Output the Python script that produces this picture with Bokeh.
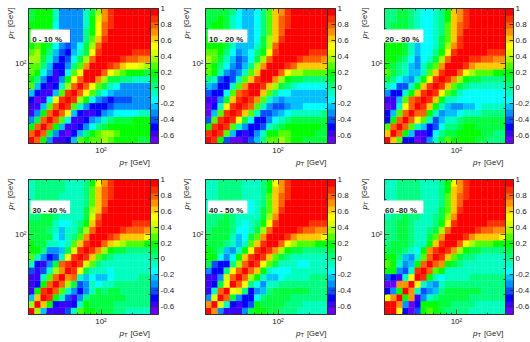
import math
import numpy as np
from bokeh.plotting import figure
from bokeh.layouts import column, row
from bokeh.models import (ColumnDataSource, LinearColorMapper, ColorBar, FixedTicker, LogAxis, Range1d)
from bokeh.core.properties import value
from bokeh.embed import file_html
from bokeh.resources import INLINE

titles = ["0 - 10 %", "10 - 20 %", "20 - 30 %", "30 - 40 %", "40 - 50 %", "60 -80 %"]
cbar_ticks = [-0.6, -0.4, -0.2, 0, 0.2, 0.4, 0.6, 0.8, 1]
major_ticks = [100]
minor_ticks = [20, 30, 40, 50, 60, 70, 80, 90, 200, 300]
palette = ["#6a00ff", "#3c00ff", "#0000ff", "#0050ff", "#0090ff", "#00c0ff", "#00ffff", "#00ffc0",
           "#00ff80", "#00ff40", "#00ff00", "#50ff00", "#a0ff00", "#d8ff00", "#ffff00", "#ffc800",
           "#ff9000", "#ff6000", "#ff3000", "#ff0000"]

c0 = [[1],[.75,1],[.15,.8,1],[-.3,.1,.75,1],[-.58,-.35,.15,.8,1],[-.6,-.58,-.2,.25,.8,1],
[-.48,-.62,-.6,-.12,.5,.85,1],[-.25,-.5,-.6,-.55,-.2,.3,.85,1],[.3,-.25,-.5,-.6,-.5,-.1,.4,.8,1],
[.2,.0,-.28,-.5,-.58,-.3,.15,.55,.82,1],
[.25,.15,-.15,-.35,-.58,-.5,-.12,.3,.55,.93,1],
[.3,.25,.05,-.2,-.45,-.52,-.3,.05,.3,.72,.93,1],
[.36,.33,.12,-.05,-.35,-.5,-.42,-.15,.08,.38,.75,.95,1],
[.32,.33,.15,.05,-.22,-.42,-.45,-.25,-.05,.12,.55,.88,.95,1],
[.2,.25,.15,.1,-.13,-.32,-.42,-.28,-.15,.08,.33,.78,.92,.97,1],
[.18,.22,.2,.1,-.12,-.3,-.42,-.33,-.28,.05,.28,.62,.88,.95,.98,1],
[.15,.2,.2,.12,-.12,-.28,-.38,-.33,-.28,.02,.22,.52,.8,.92,.95,.97,1],
[.15,.18,.2,.15,-.12,-.28,-.33,-.33,-.28,-.03,.2,.5,.75,.9,.93,.95,.97,1],
[.12,.15,.18,.15,-.1,-.28,-.33,-.33,-.28,-.05,.15,.42,.72,.88,.93,.93,.95,.97,1],
[.1,.15,.18,.15,-.1,-.3,-.33,-.33,-.28,-.05,.12,.4,.72,.88,.93,.93,.93,.95,.97,1]]

c1 = [[1],[.88,1],[.15,.85,1],[-.4,.25,.85,1],[-.62,-.2,.3,.88,1],[-.62,-.45,-.05,.55,.88,1],
[-.55,-.6,-.35,.1,.62,.88,1],[-.4,-.5,-.45,-.12,.3,.75,.88,1],[-.2,-.35,-.5,-.5,-.05,.3,.7,.92,1],
[.03,-.1,-.4,-.5,-.42,-.05,.25,.6,.9,1],
[.3,.15,-.1,-.33,-.42,-.33,-.05,.3,.62,.92,1],
[.28,.2,.05,-.15,-.3,-.38,-.22,.05,.33,.7,.93,1],
[.33,.3,.12,-.02,-.25,-.38,-.3,-.12,.1,.38,.78,.95,1],
[.3,.3,.15,.05,-.15,-.3,-.25,-.15,.0,.2,.55,.88,.95,1],
[.2,.22,.15,.08,-.05,-.22,-.25,-.2,-.1,.12,.4,.75,.92,.97,1],
[.15,.2,.15,.08,-.08,-.2,-.25,-.2,-.12,.08,.33,.65,.88,.95,.98,1],
[.12,.18,.15,.1,-.07,-.18,-.25,-.2,-.15,.05,.3,.6,.82,.93,.96,.97,1],
[.12,.15,.15,.12,-.05,-.15,-.25,-.22,-.15,.03,.28,.58,.78,.9,.95,.96,.97,1],
[.12,.14,.15,.12,-.02,-.13,-.27,-.25,-.15,.03,.28,.58,.75,.9,.95,.95,.95,.97,1],
[.1,.12,.14,.12,.0,-.12,-.25,-.25,-.13,.03,.25,.58,.72,.9,.95,.95,.95,.96,.97,1]]

c2 = [[1],[.58,1],[.25,.75,1],[-.45,.2,.75,1],[-.5,-.2,.25,.75,1],[-.62,-.55,-.05,.5,.78,1],
[-.58,-.6,-.25,.25,.75,.88,1],[-.35,-.45,-.5,-.1,.2,.62,.88,1],[-.05,-.15,-.4,-.4,-.05,.2,.6,.88,1],
[.1,.02,-.15,-.25,-.3,-.1,.2,.55,.85,1],
[.25,.1,.03,-.1,-.25,-.25,-.05,.3,.6,.9,1],
[.2,.12,.05,-.05,-.2,-.28,-.1,.08,.3,.72,.92,1],
[.2,.18,.12,.02,-.15,-.28,-.18,-.1,.1,.38,.75,.95,1],
[.22,.22,.15,.08,-.05,-.2,-.18,-.12,.0,.2,.55,.85,.95,1],
[.18,.2,.15,.08,-.02,-.2,-.18,-.15,-.03,.12,.4,.72,.9,.97,1],
[.12,.15,.12,.08,-.02,-.12,-.18,-.15,-.08,.08,.3,.62,.85,.95,.97,1],
[.08,.1,.1,.08,.0,-.1,-.15,-.15,-.1,.05,.28,.6,.8,.92,.96,.97,1],
[.05,.08,.1,.1,.0,-.08,-.15,-.15,-.1,.05,.25,.58,.75,.9,.95,.96,.97,1],
[.05,.05,.1,.1,.02,-.05,-.13,-.13,-.1,.03,.22,.58,.72,.88,.93,.95,.95,.97,1],
[.05,.05,.1,.1,.02,-.05,-.13,-.13,-.1,.03,.22,.58,.72,.88,.93,.93,.95,.95,.97,1]]

c3 = [[1],[.38,1],[-.25,.58,1],[-.58,.15,.85,1],[-.6,-.45,.15,.78,1],[-.6,-.55,-.1,.3,.78,1],
[-.38,-.55,-.4,-.05,.4,.72,1],[-.1,-.45,-.55,-.35,.1,.75,.88,1],[.25,-.1,-.28,-.45,-.4,-.05,.55,.9,1],
[.2,.15,.05,-.28,-.3,-.25,.1,.45,.85,1],
[.15,.12,.08,-.05,-.1,-.15,-.1,.28,.62,.9,1],
[.08,.1,.1,.08,-.12,-.22,-.1,.05,.3,.72,.92,1],
[.1,.12,.12,.05,-.05,-.2,-.1,-.05,.1,.4,.78,.95,1],
[.1,.12,.12,.08,-.02,-.12,-.12,-.08,.0,.22,.6,.88,.95,1],
[.03,.06,.1,.08,.02,-.05,-.1,-.1,-.03,.12,.42,.75,.92,.97,1],
[.0,.04,.08,.06,.02,-.03,-.08,-.1,-.05,.08,.33,.65,.88,.95,.97,1],
[-.03,.02,.05,.06,.03,-.02,-.05,-.08,-.05,.05,.3,.6,.82,.92,.96,.97,1],
[-.05,.0,.03,.05,.04,-.02,-.05,-.07,-.05,.03,.28,.58,.78,.9,.94,.96,.97,1],
[-.05,.0,.03,.05,.05,.0,-.03,-.05,-.05,.02,.25,.58,.75,.9,.93,.95,.95,.97,1],
[-.05,.0,.03,.05,.05,.02,-.02,-.05,-.08,.02,.22,.55,.72,.88,.92,.93,.95,.95,.97,1]]

c4 = [[1],[.72,1],[-.28,.45,1],[-.58,-.1,.75,1],[-.6,-.45,.1,.55,1],[-.55,-.6,-.3,.45,.82,1],
[-.3,-.45,-.5,.0,.55,.8,1],[.1,-.4,-.5,-.48,.05,.35,.82,1],[.2,.15,-.15,-.28,-.15,.2,.62,.9,1],
[.15,.12,.05,-.22,-.28,-.05,.2,.55,.85,1],
[.1,.1,.08,.0,-.1,-.25,-.1,.3,.65,.9,1],
[.08,.1,.1,.08,-.05,-.2,-.15,.1,.3,.7,.92,1],
[.05,.08,.1,.1,.0,-.12,-.12,-.05,.12,.4,.78,.95,1],
[.02,.05,.1,.1,.0,-.08,-.12,-.08,.0,.2,.55,.88,.95,1],
[.0,.02,.06,.07,.03,-.05,-.1,-.1,-.03,.12,.4,.72,.92,.97,1],
[-.03,.0,.05,.07,.03,-.03,-.1,-.12,-.05,.08,.32,.62,.88,.95,.97,1],
[-.05,-.02,.03,.07,.03,-.02,-.1,-.12,-.07,.05,.3,.6,.8,.92,.96,.97,1],
[-.05,-.03,.02,.06,.03,.0,-.08,-.1,-.08,.03,.25,.58,.75,.9,.95,.96,.97,1],
[-.05,-.03,.02,.05,.03,.0,-.07,-.1,-.08,.03,.22,.58,.72,.88,.93,.95,.95,.97,1],
[-.05,-.03,.0,.05,.03,.0,-.06,-.1,-.08,.02,.2,.55,.72,.88,.93,.93,.95,.95,.97,1]]

c5 = [[1],[.95,1],[.55,.72,1],[-.45,-.28,.2,1],[-.62,-.62,.72,.7,1],[-.42,-.48,-.55,-.1,.55,1],
[.18,.15,-.35,-.42,-.05,.9,1],[.3,.2,-.05,-.3,-.2,.2,.8,1],[.18,.15,.05,-.25,-.28,-.1,.3,.75,1],
[.1,.12,.1,.0,-.1,-.15,.15,.7,.9,1],
[.05,.08,.1,.08,.0,-.1,-.02,.2,.6,.9,1],
[.03,.05,.08,.1,.05,-.05,-.05,.1,.3,.7,.92,1],
[.02,.05,.08,.1,.05,-.03,-.05,.0,.12,.4,.78,.95,1],
[.0,.03,.08,.1,.05,-.02,-.05,-.03,.03,.2,.55,.85,.95,1],
[-.03,.0,.05,.08,.05,.0,-.05,-.05,.0,.12,.4,.72,.92,.97,1],
[-.05,-.02,.03,.07,.05,.0,-.05,-.08,-.02,.08,.32,.62,.88,.95,.97,1],
[-.05,-.03,.03,.06,.05,.0,-.05,-.08,-.03,.05,.28,.6,.8,.92,.96,.97,1],
[-.06,-.03,.02,.06,.05,.02,-.05,-.08,-.05,.05,.25,.58,.75,.9,.95,.96,.97,1],
[-.06,-.03,.02,.05,.04,.02,-.05,-.08,-.05,.03,.22,.58,.72,.88,.93,.95,.95,.97,1],
[-.06,-.03,.02,.05,.04,.02,-.04,-.08,-.05,.03,.2,.55,.72,.88,.93,.93,.95,.95,.97,1]]

panels = [c0, c1, c2, c3, c4, c5]
edges = np.geomspace(20, 300, 21)
FONT = "Liberation Sans"
DARK = "#303030"
TXT = "#222222"


def style_axis(ax, labels=True):
    ax.ticker = FixedTicker(ticks=major_ticks, minor_ticks=minor_ticks)
    ax.axis_line_color = DARK
    ax.major_tick_in = 5; ax.major_tick_out = 0
    ax.minor_tick_in = 2; ax.minor_tick_out = 0
    ax.major_tick_line_color = DARK; ax.minor_tick_line_color = DARK
    ax.major_tick_line_width = 0.8; ax.minor_tick_line_width = 0.8
    if labels:
        ax.major_label_overrides = {100: "10\u00b2"}
        ax.major_label_text_font = FONT
        ax.major_label_text_font_size = "8px"
        ax.major_label_text_color = TXT
        ax.major_label_standoff = 2
    else:
        ax.major_label_text_font_size = "0px"
        ax.major_label_text_color = None
        ax.major_label_standoff = 0


def panel(tri, left, fw, top, bottom, total_w):
    left_e, right_e, bot_e, top_e, vals = [], [], [], [], []
    for j, r in enumerate(tri):
        for i, v in enumerate(r):
            for a, b in {(i, j), (j, i)}:
                left_e.append(edges[a]); right_e.append(edges[a + 1])
                bot_e.append(edges[b]); top_e.append(edges[b + 1]); vals.append(v)
    src = ColumnDataSource(dict(l=left_e, r=right_e, b=bot_e, t=top_e, v=vals))
    mapper = LinearColorMapper(palette=palette, low=-0.7, high=1.0)
    p = figure(width=total_w, height=top + 135 + bottom, frame_width=fw, frame_height=135,
               x_axis_type="log", y_axis_type="log", x_range=(20, 300), y_range=(20, 300),
               output_backend="svg", toolbar_location=None, min_border_left=left, min_border_right=0,
               min_border_top=top, min_border_bottom=bottom, outline_line_color=DARK,
               outline_line_width=1, background_fill_color="white")
    p.grid.visible = False
    p.quad(left="l", right="r", bottom="b", top="t", source=src,
           fill_color={"field": "v", "transform": mapper},
           line_color={"field": "v", "transform": mapper}, line_width=0.3)
    style_axis(p.xaxis[0]); style_axis(p.yaxis[0])
    top_ax = LogAxis(); style_axis(top_ax, False); p.add_layout(top_ax, "above")
    right_ax = LogAxis(); style_axis(right_ax, False); p.add_layout(right_ax, "right")
    cb = ColorBar(color_mapper=mapper, width=8, height=135, padding=0, margin=2, location=(0, 0),
                  ticker=FixedTicker(ticks=cbar_ticks),
                  major_label_overrides={t: ("%g" % t) for t in cbar_ticks},
                  major_label_text_font=FONT, major_label_text_font_size="8px",
                  major_label_text_color=TXT, major_tick_line_color=DARK, major_tick_in=4,
                  major_tick_out=0, minor_tick_line_color=None, bar_line_color=DARK, label_standoff=2)
    p.add_layout(cb, "right")
    return p


geo = [(28, 122, 176), (28, 122, 176), (30, 121, 178)]
frame_lefts = [28, 204, 382]
frame_rights = [149.5, 326, 503]
frame_tops = [8, 179]
frame_h = 135
box_lefts = [30, 207.3, 383.3]
box_w = 39.6
box_tops = [29, 200]
text_lefts = [31.7, 208.5, 384.5]

figs = []
for k, tri in enumerate(panels):
    left, fw, w = geo[k % 3]
    figs.append(panel(tri, left, fw, 8 if k < 3 else 9, 27, w))

W, H = 530, 341
ov = figure(width=W, height=H, x_range=Range1d(0, W), y_range=Range1d(H, 0), output_backend="svg",
            toolbar_location=None, min_border=0, outline_line_color=None,
            background_fill_alpha=0, border_fill_alpha=0, margin=(-H, 0, 0, 0))
ov.axis.visible = False
ov.grid.visible = False


def txt(x, y, t, size, style="normal", angle=0.0):
    ov.text(x=[x], y=[y], text=[t], text_font=value(FONT), text_font_size=size, text_font_style=style,
            angle=angle, text_color=TXT, text_baseline="alphabetic", text_align="left")


a = math.pi / 2
for k, title in enumerate(titles):
    c, r = k % 3, k // 3
    fl, fr, ft = frame_lefts[c], frame_rights[c], frame_tops[r]
    fb = ft + frame_h
    ov.quad(left=[box_lefts[c]], right=[box_lefts[c] + box_w], top=[box_tops[r]], bottom=[box_tops[r] + 13],
            fill_color="white", line_color=None)
    txt(text_lefts[c], box_tops[r] + 9.5, title, "8px", "bold")
    txt(fr - 30.5, fb + 18.5, "p", "8px", "italic")
    txt(fr - 26, fb + 20, "T", "6px")
    txt(fr - 19.5, fb + 18.5, "[GeV]", "7.6px")
    txt(fl - 18, ft + 30, "p", "8px", "italic", a)
    txt(fl - 16.5, ft + 25.5, "T", "6px", "normal", a)
    txt(fl - 18, ft + 18.5, "[GeV]", "7.6px", "normal", a)

layout = column(row(figs[0], figs[1], figs[2], spacing=0), row(figs[3], figs[4], figs[5], spacing=0), ov,
                spacing=0)
open("out.html", "w").write(file_html(layout, INLINE))
